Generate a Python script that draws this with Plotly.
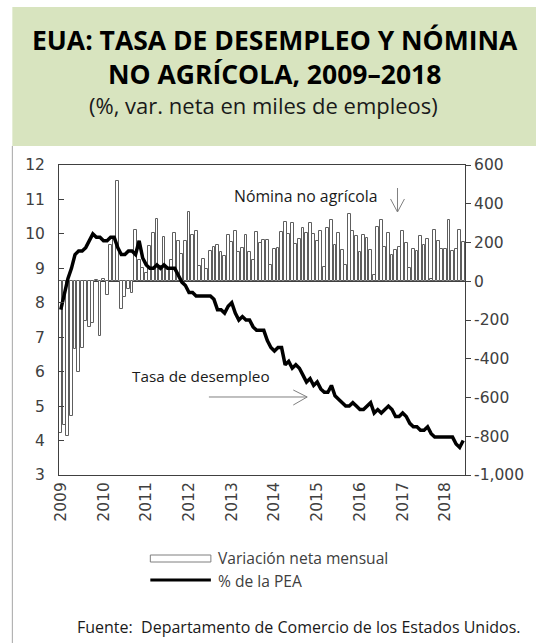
import plotly.graph_objects as go

# monthly data, Jan 2009 - Jun 2018
years = ["2009", "2010", "2011", "2012", "2013", "2014", "2015", "2016", "2017", "2018"]

# nomina no agricola, var. neta mensual (miles)
nomina = [
    -784, -743, -800, -695, -352, -468, -345, -205, -235, -215, 5, -282,   # 2009
    14, -72, 189, 230, 516, -144, -81, -38, -62, 263, 110, 70,             # 2010
    42, 180, 248, 320, 77, 229, 69, 110, 248, 209, 141, 209,               # 2011
    358, 237, 260, 78, 115, 64, 155, 177, 189, 151, 132, 237,              # 2012
    203, 260, 151, 174, 237, 151, 108, 254, 198, 211, 215, 86,             # 2013
    168, 174, 254, 306, 246, 301, 194, 220, 277, 249, 301, 246,            # 2014
    208, 260, 74, 277, 318, 186, 251, 160, 86, 349, 261, 232,              # 2015
    150, 237, 225, 160, 31, 280, 318, 176, 249, 134, 163, 177,             # 2016
    258, 198, 69, 168, 155, 236, 189, 218, 12, 265, 210, 168,              # 2017
    168, 318, 155, 168, 263, 203,                                          # 2018
]

# tasa de desempleo (% de la PEA)
desempleo = [
    7.8, 8.3, 8.7, 9.0, 9.4, 9.5, 9.5, 9.6, 9.8, 10.0, 9.9, 9.9,
    9.8, 9.8, 9.9, 9.9, 9.6, 9.4, 9.4, 9.5, 9.5, 9.4, 9.8, 9.3,
    9.1, 9.0, 9.0, 9.1, 9.0, 9.1, 9.0, 9.0, 9.0, 8.8, 8.6, 8.5,
    8.3, 8.3, 8.2, 8.2, 8.2, 8.2, 8.2, 8.1, 7.8, 7.8, 7.7, 7.9,
    8.0, 7.7, 7.5, 7.6, 7.5, 7.5, 7.3, 7.2, 7.2, 7.2, 6.9, 6.7,
    6.6, 6.7, 6.7, 6.2, 6.3, 6.1, 6.2, 6.1, 5.9, 5.7, 5.8, 5.6,
    5.7, 5.5, 5.4, 5.4, 5.6, 5.3, 5.2, 5.1, 5.0, 5.0, 5.1, 5.0,
    4.9, 4.9, 5.0, 5.1, 4.8, 4.9, 4.8, 4.9, 5.0, 4.9, 4.7, 4.7,
    4.8, 4.7, 4.5, 4.4, 4.4, 4.3, 4.3, 4.4, 4.2, 4.1, 4.1, 4.1,
    4.1, 4.1, 4.1, 3.9, 3.8, 4.0,
]

left_ticks = [3, 4, 5, 6, 7, 8, 9, 10, 11, 12]
right_ticks = [-1000, -800, -600, -400, -200, 0, 200, 400, 600]
right_text = ["-1,000", "-800", "-600", "-400", "-200", "0", "200", "400", "600"]

meses = list(range(len(nomina)))

W, H = 536, 643
L, R, T, B = 59, 68, 165, 168
PW, PH = W - L - R, H - T - B


def fx(px):
    return (px - L) / PW


def fy(py):
    return (H - B - py) / PH


TXT = "Open Sans"
TICK = dict(family="DejaVu Sans", size=15.5, color="#404040")

fig = go.Figure()
fig.add_trace(go.Bar(x=meses, y=nomina, width=0.8, yaxis="y",
                     marker=dict(color="white", line=dict(color="#5e5e5e", width=1))))
fig.add_trace(go.Scatter(x=meses, y=desempleo, yaxis="y2", mode="lines",
                         line=dict(color="black", width=3.5)))

shapes = [
    # green header
    dict(type="rect", xref="paper", yref="paper", x0=fx(12), x1=fx(540), y0=fy(146), y1=fy(7),
         fillcolor="#d8e4bf", line=dict(width=0), layer="below"),
    # left border
    dict(type="line", xref="paper", yref="paper", x0=fx(12), x1=fx(12), y0=fy(146), y1=fy(645),
         line=dict(color="#a6a6a6", width=1)),
    # arrow nomina
    dict(type="path", xref="paper", yref="paper",
         path="M%f,%f L%f,%f M%f,%f L%f,%f L%f,%f" % (
             fx(400), fy(188), fx(400), fy(212),
             fx(393), fy(199), fx(400), fy(212), fx(407), fy(199)),
         line=dict(color="#808080", width=1)),
    # arrow tasa
    dict(type="path", xref="paper", yref="paper",
         path="M%f,%f L%f,%f M%f,%f L%f,%f L%f,%f" % (
             fx(210), fy(397), fx(309), fy(397),
             fx(295), fy(390), fx(309), fy(397), fx(295), fy(405)),
         line=dict(color="#808080", width=1)),
    # legend symbols
    dict(type="rect", xref="paper", yref="paper", x0=fx(151), x1=fx(212), y0=fy(562), y1=fy(555),
         fillcolor="white", line=dict(color="#7f7f7f", width=1)),
    dict(type="line", xref="paper", yref="paper", x0=fx(151), x1=fx(212), y0=fy(580), y1=fy(580),
         line=dict(color="black", width=3)),
]

annotations = [
    dict(text="<b>EUA: TASA DE DESEMPLEO Y NÓMINA</b><br><b>NO AGRÍCOLA, 2009–2018</b>",
         x=fx(277), y=fy(57), font=dict(family=TXT, size=26.5, color="black")),
    dict(text="(%, var. neta en miles de empleos)", x=fx(265), y=fy(105),
         font=dict(family=TXT, size=22, color="#1a1a1a")),
    dict(text="Nómina no agrícola", x=fx(308), y=fy(196),
         font=dict(family=TXT, size=15.8, color="#1a1a1a")),
    dict(text="Tasa de desempleo", x=fx(131), y=fy(376), xanchor="left",
         font=dict(family=TXT, size=15.3, color="#1a1a1a")),
    dict(text="Variación neta mensual", x=fx(217), y=fy(558), xanchor="left",
         font=dict(family=TXT, size=15.6, color="#404040")),
    dict(text="% de la PEA", x=fx(217), y=fy(581), xanchor="left",
         font=dict(family=TXT, size=15.6, color="#404040")),
    dict(text="Fuente:  Departamento de Comercio de los Estados Unidos.", x=fx(525), y=fy(627),
         xanchor="right", font=dict(family=TXT, size=16, color="#1a1a1a")),
]
for a in annotations:
    a.update(xref="paper", yref="paper", showarrow=False)
    a.setdefault("xanchor", "center")
    a["yanchor"] = "middle"

fig.update_layout(
    width=W, height=H,
    margin=dict(l=L, r=R, t=T, b=B),
    paper_bgcolor="white", plot_bgcolor="white",
    showlegend=False,
    bargap=0,
    shapes=shapes,
    annotations=annotations,
    xaxis=dict(range=[-0.5, len(nomina) - 0.5], tickvals=[12 * i for i in range(len(years))],
               ticktext=years, tickangle=-90, tickfont=TICK, showline=True, mirror=True,
               linecolor="#404040", linewidth=1, ticks="", showgrid=False, zeroline=False),
    yaxis=dict(side="right", range=[-1000, 600], tickvals=right_ticks, ticktext=right_text,
               tickfont=TICK, ticks="outside", ticklen=5, tickcolor="#404040",
               showline=True, linecolor="#404040", linewidth=1, showgrid=False,
               zeroline=True, zerolinecolor="#404040", zerolinewidth=1),
    yaxis2=dict(overlaying="y", side="left", range=[3, 12], tickvals=left_ticks,
                tickfont=TICK, ticks="inside", ticklen=5, tickcolor="#404040",
                showline=True, linecolor="#404040", linewidth=1, showgrid=False,
                zeroline=False, ticklabelstandoff=10),
)

# the page body has a default margin; remove it so the figure fills the window
fig.write_html("out.html", config={"displayModeBar": False},
               post_script="document.body.style.margin='0px';")
